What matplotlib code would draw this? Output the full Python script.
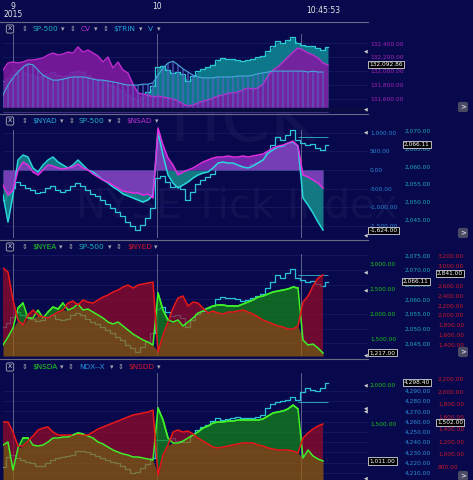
import numpy as np
import matplotlib.pyplot as plt
from matplotlib.lines import Line2D
from matplotlib.ticker import FuncFormatter

nan = np.nan

# bar index across the two sessions (one value per bar)
t = np.arange(66)
session_marks = [2, 30.8, 59.6]
last_bar = 64

sp500 = [2050.6, 2052.0, 2053.9, 2055.6, 2054.8, 2053.9, 2053.4, 2052.5, 2052.8, 2053.9,
         2054.5, 2053.4, 2052.8, 2053.4, 2054.5, 2055.3, 2054.5, 2053.4, 2052.2, 2051.7,
         2050.6, 2049.5, 2048.4, 2047.2, 2046.1, 2044.4, 2043.3, 2042.2, 2043.6, 2045.6,
         2048.4, 2056.7, 2057.3, 2055.6, 2054.2, 2054.5, 2053.7, 2050.6, 2052.8, 2055.0,
         2056.1, 2057.0, 2057.8, 2060.1, 2060.9, 2060.6, 2060.4, 2060.1, 2059.5, 2059.8,
         2060.6, 2061.2, 2061.8, 2064.0, 2066.0, 2068.2, 2067.4, 2068.8, 2070.2, 2067.4,
         2066.5, 2066.0, 2066.2, 2065.1, 2064.5, 2065.9]
cv = [132014, 132116, 132130, 132116, 132130, 132159, 132159, 132173, 132188, 132231,
      132260, 132231, 132245, 132274, 132260, 132347, 132274, 132303, 132260, 132217,
      132130, 132202, 132043, 132130, 132014, 131971, 131812, 131682, 131668, 131653,
      131625, 131639, 131625, 131610, 131596, 131567, 131524, 131495, 131509, 131538,
      131567, 131581, 131610, 131639, 131653, 131682, 131682, 131697, 131726, 131755,
      131740, 131755, 131812, 131928, 132014, 132058, 132130, 132202, 132274, 132332,
      132303, 132260, 132231, 132188, 132116, 132087]
trin_v = [0.29, 0.51, 0.67, 0.80, 0.91, 0.98, 0.96, 0.84, 0.73, 0.67,
          0.62, 0.62, 0.64, 0.67, 0.69, 0.69, 0.69, 0.67, 0.64, 0.62,
          0.62, 0.60, 0.58, 0.56, 0.53, 0.51, 0.51, 0.51, 0.53, 0.53,
          0.56, 0.73, 0.89, 1.00, 1.04, 0.96, 0.87, 0.80, 0.73, 0.69,
          0.67, 0.67, 0.67, 0.69, 0.69, 0.69, 0.69, 0.71, 0.71, 0.71,
          0.73, 0.76, 0.78, 0.80, 0.82, 0.82, 0.82, 0.82, 0.82, 0.82,
          0.82, 0.80, 0.82, 0.80, 0.80, nan]
nyad = [-672, -1399, -672, 269, 403, 350, 54, -54, 134, 269,
        350, 215, 134, 54, 134, 269, 134, 0, -54, -161,
        -269, -350, -457, -538, -646, -699, -753, -807, -861, -807,
        -672, 1022, 403, -134, -350, -484, -403, -323, -215, -134,
        -81, -54, 54, 188, 215, 188, 188, 134, 81, 54,
        108, 188, 269, 457, 538, 619, 646, 726, 753, 646,
        -753, -941, -1157, -1399, -1614, nan]
nsad = [-403, -672, -538, 0, 215, 134, -54, -134, 0, 134,
        108, 54, 27, 54, 81, 161, 54, 0, -108, -188,
        -269, -323, -403, -484, -565, -592, -619, -619, -672, -646,
        -753, 1130, 672, 323, 134, -134, -54, 0, 54, 134,
        215, 269, 323, 350, 350, 377, 350, 350, 377, 350,
        377, 403, 430, 511, 592, 646, 672, 726, 780, 646,
        -134, -188, -269, -350, -484, nan]
nyea = [1373, 1534, 1715, 2116, 2217, 1916, 1916, 2076, 1916, 2036,
        2137, 2096, 2217, 2076, 2116, 2197, 2076, 2096, 2036, 1976,
        1916, 1835, 1795, 1835, 1755, 1675, 1594, 1534, 1474, 1434,
        1373, 2418, 2076, 1876, 1835, 1876, 1755, 1835, 1916, 2016,
        2056, 2116, 2157, 2177, 2177, 2157, 2157, 2157, 2197, 2237,
        2277, 2337, 2357, 2398, 2438, 2458, 2478, 2498, 2538, 2518,
        1474, 1373, 1393, 1313, 1213, nan]
nyed = [2956, 2875, 2307, 1901, 1800, 2003, 2104, 2003, 1962, 1942,
        2003, 2063, 2104, 2246, 2287, 2205, 2307, 2266, 2246, 2307,
        2368, 2408, 2469, 2510, 2571, 2611, 2550, 2611, 2632, 2652,
        2672, 1252, 1597, 1861, 2145, 2348, 2388, 2185, 2266, 2246,
        2145, 2043, 2084, 2043, 2023, 2063, 2063, 2084, 2104, 2063,
        2023, 1962, 1901, 1861, 1820, 1780, 1760, 1719, 1719, 1780,
        2266, 2388, 2591, 2753, 2814, nan]
nsda = [1219, 1258, 895, 1180, 1310, 1310, 1219, 1206, 1219, 1258,
        1310, 1310, 1323, 1323, 1349, 1375, 1362, 1336, 1310, 1258,
        1232, 1193, 1154, 1128, 1103, 1090, 1064, 1064, 1051, 1038,
        1025, 1698, 1543, 1310, 1245, 1245, 1271, 1310, 1349, 1388,
        1439, 1465, 1504, 1517, 1517, 1530, 1530, 1543, 1543, 1543,
        1543, 1543, 1556, 1595, 1634, 1647, 1660, 1686, 1737, 1686,
        1051, 1154, 1077, 1038, 1012, nan]
nsdd = [1514, 1514, 1354, 1131, 1131, 1210, 1290, 1386, 1418, 1434,
        1354, 1306, 1306, 1306, 1306, 1322, 1306, 1306, 1354, 1402,
        1434, 1466, 1498, 1530, 1562, 1594, 1625, 1641, 1657, 1673,
        1705, 668, 987, 1147, 1354, 1386, 1354, 1370, 1322, 1258,
        1210, 1163, 1115, 1099, 1115, 1131, 1147, 1163, 1179, 1179,
        1179, 1147, 1131, 1099, 1083, 1067, 1067, 1067, 1051, 1019,
        1258, 1338, 1402, 1450, 1482, nan]
ndx = [4215.6, 4225.4, 4227.3, 4224.4, 4222.4, 4220.5, 4219.5, 4216.6, 4216.6, 4219.5,
       4222.4, 4224.4, 4225.4, 4226.4, 4227.3, 4231.3, 4231.3, 4230.3, 4228.3, 4226.4,
       4224.4, 4222.4, 4220.5, 4219.5, 4216.6, 4213.6, 4209.7, 4210.7, 4214.6, 4218.5,
       4224.4, 4242.0, 4242.0, 4242.0, 4244.0, 4241.0, 4240.1, 4240.1, 4246.9, 4251.8,
       4254.8, 4256.7, 4260.6, 4263.6, 4261.6, 4262.6, 4263.6, 4264.5, 4263.6, 4263.6,
       4263.6, 4264.5, 4266.5, 4273.4, 4277.3, 4279.2, 4280.2, 4281.2, 4284.1, 4281.2,
       4289.0, 4292.9, 4291.0, 4290.0, 4292.9, 4297.8]

sp_prev_close = 2068.2
ndx_prev_close = 4279.2

# last values shown in the boxes
cv_last, sp_last, nyad_last = 132092.86, 2066.11, -1624.00
nyea_last, nyed_last = 1217.00, 2841.00
nsda_last, nsdd_last, ndx_last = 1011.00, 1502.00, 4298.40

cv_ticks = [131600, 131800, 132000, 132200, 132400]
nyad_ticks = [-1500, -1000, -500, 0, 500, 1000]
sp_ticks2 = [2045, 2050, 2055, 2060, 2065, 2070]
sp_ticks3 = [2045, 2050, 2055, 2060, 2065, 2070, 2075]
nyea_ticks = [1500, 2000, 2500, 3000]
nyed_ticks = [1400, 1600, 1800, 2000, 2200, 2400, 2600, 2800, 3000, 3200]
nsda_ticks = [1500, 2000]
ndx_ticks = [4210, 4220, 4230, 4240, 4250, 4260, 4270, 4280, 4290]
nsdd_ticks = [800, 1000, 1200, 1400, 1600, 1800, 2000, 2200]

W, H = 473, 480
BG = '#08094c'
BROWN, GREEN, RED = '#965d07', '#128715', '#960a29'

fig = plt.figure(figsize=(W / 100, H / 100), dpi=100, facecolor=BG)
money = FuncFormatter(lambda v, p: f'{v:,.2f}')


def fx(x):
    return x / W


def fy(y):
    return 1 - y / H


def panel(top, bottom, ylim, grid_ticks):
    ax = fig.add_axes([fx(3), fy(bottom), fx(365), (bottom - top) / H])
    ax.set_facecolor('none')
    ax.set_xlim(0, 73)
    ax.set_ylim(*ylim)
    for s in ax.spines.values():
        s.set_visible(False)
    for v in grid_ticks:
        ax.axhline(v, color='#181c68', lw=0.5)
    for m in session_marks:
        ax.axvline(m, ymax=0.88, color='#8a8aa6', lw=0.6, alpha=0.8)
    ax.set_xticks([])
    ax.set_yticks([])
    return ax


def scale(host, ylim, z, ticks=None, pad=0, color='w'):
    ax = host.twinx()
    ax.set_zorder(z)
    ax.patch.set_visible(False)
    ax.set_ylim(*ylim)
    for s in ax.spines.values():
        s.set_visible(False)
    if ticks is None:
        ax.set_yticks([])
    else:
        ax.set_yticks(ticks)
        ax.yaxis.set_major_formatter(money)
        ax.tick_params(axis='y', length=0, pad=pad * 0.72, labelsize=4.2, labelcolor=color)
    return ax


def last_box(ax, value, pad):
    ax.annotate(f'{value:,.2f}', xy=(1, value), xycoords=ax.get_yaxis_transform(),
                xytext=(pad * 0.72, 0), textcoords='offset points', ha='left', va='center',
                fontsize=4.2, color='white', annotation_clip=False, zorder=10,
                bbox=dict(boxstyle='square,pad=0.2', fc='black', ec='white', lw=0.5))


def breadth(ax, up, down, up_lim):
    lo, hi = ax.get_ylim()
    up = lo + (np.asarray(up, float) - up_lim[0]) * (hi - lo) / (up_lim[1] - up_lim[0])
    down = np.asarray(down, float)
    ax.plot(t, up, color='#40f028', lw=1.1)
    ax.fill_between(t, lo, np.minimum(up, down), color=BROWN, alpha=0.72, lw=0)
    ax.fill_between(t, down, up, where=up >= down, interpolate=True, color=GREEN, alpha=0.72, lw=0)
    ax.fill_between(t, up, down, where=down > up, interpolate=True, color=RED, alpha=0.72, lw=0)
    ax.plot(t, down, color='#e81818', lw=1.1)
    ax.plot(t, np.where(up >= down, up, np.nan), color='#40f028', lw=1.1)


def header(y, items):
    fig.text(fx(10), fy(y), 'X', ha='center', va='center', fontsize=4.5, color='#e0e0e0',
             bbox=dict(boxstyle='round,pad=0.25', fc='none', ec='#b0b0b8', lw=0.6))
    for label, x, color in items:
        if label in ('⇕', '▾'):
            fig.text(fx(x), fy(y), label, ha='center', va='center', fontsize=5, color='#a8a8b4')
        else:
            fig.text(fx(x), fy(y), label, ha='left', va='center', fontsize=5.3, color=color)


# watermark
fig.text(fx(237), fy(122), 'TICK', fontsize=50, color='white', alpha=0.04,
         ha='center', va='center', zorder=-1)
fig.text(fx(237), fy(206), 'NYSE Tick Index', fontsize=29, color='white', alpha=0.04,
         ha='center', va='center', zorder=-1)

# panel 1: SP-500 / CV / TRIN
cv_lim, sp_lim1, v_lim = (131408, 132693), (2036.9, 2076.4), (-0.089, 1.889)
h1 = panel(23, 112, cv_lim, cv_ticks)
a_sp1 = scale(h1, sp_lim1, 1)
a_cv = scale(h1, cv_lim, 2, cv_ticks, 2, '#a524b4')
a_v = scale(h1, v_lim, 3)
a_sp1.fill_between(t, sp_lim1[0], sp500, color='#0f8592', alpha=0.9, lw=0)
a_sp1.plot(t, sp500, color='#2ccbd4', lw=0.9, drawstyle='steps-mid')
a_cv.fill_between(t, cv_lim[0], cv, color='#7e1aa0', alpha=0.9, lw=0)
a_cv.plot(t, cv, color='#c02cd0', lw=1.0)
a_v.bar(t, trin_v, width=0.55, color='#5660c8', alpha=0.6, lw=0)
a_v.plot(t, trin_v, color='#48a8dc', lw=0.8)
a_v.axhspan(v_lim[0], 0, color='#0b0d42', zorder=5)
last_box(a_cv, cv_last, 1.5)

for m, lab, yy in [(session_marks[0], '9', 1.19), (session_marks[0], '2015', 1.09),
                   (session_marks[1], '10', 1.19), (last_bar, '10:45:53', 1.146)]:
    h1.text(m, yy, lab, transform=h1.get_xaxis_transform(), ha='center', va='center',
            fontsize=5.5, color='#e6e6e6', clip_on=False)

# panel 2: NYAD / SP-500 / NSAD
nyad_lim, sp_lim2 = (-1829, 1480), (2040.0, 2074.3)
h2 = panel(115, 238, nyad_lim, nyad_ticks)
a_sp2 = scale(h2, sp_lim2, 1, sp_ticks2, 36.5, '#1fa8b8')
a_ad = scale(h2, nyad_lim, 2, nyad_ticks, 2, '#2a86d6')
a_sp2.plot(t, sp500, color='#2cc6d8', lw=0.9, drawstyle='steps-mid')
a_sp2.hlines(sp_prev_close, 59, 65, color='#2cb8c8', lw=0.6)
a_ad.fill_between(t, 0, nyad, color='#168c8c', alpha=0.85, lw=0)
a_ad.plot(t, nyad, color='#2ad6dc', lw=1.1)
a_ad.fill_between(t, 0, nsad, color='#8e30c2', alpha=0.8, lw=0)
a_ad.plot(t, nsad, color='#e02ee0', lw=1.1)
last_box(a_sp2, sp_last, 36)
last_box(a_ad, nyad_last, 1.5)

# panel 3: NYEA / SP-500 / NYED
nyea_lim, sp_lim3, nyed_lim = (1153, 3482), (2040.7, 2080.2), (1171, 3525)
h3 = panel(240, 356, sp_lim3, sp_ticks3)
a_sp3 = scale(h3, sp_lim3, 1, sp_ticks3, 36.5, '#1fa8b8')
a_r3 = scale(h3, nyed_lim, 2, nyed_ticks, 70, '#c81828')
a_g3 = scale(h3, nyea_lim, 3, nyea_ticks, 2, '#18c018')
a_sp3.plot(t, sp500, color='#2cc0d8', lw=0.9, drawstyle='steps-mid')
a_sp3.hlines(sp_prev_close, 59, 65, color='#2cb8c8', lw=0.6)
breadth(a_r3, nyea, nyed, nyea_lim)
last_box(a_sp3, sp_last, 35)
last_box(a_r3, nyed_last, 69)
last_box(a_g3, nyea_last, 1.5)

# panel 4: NSDA / NDX / NSDD
nsda_lim, ndx_lim, nsdd_lim = (766, 2346), (4202.9, 4322.3), (588, 2535)
h4 = panel(358, 480, ndx_lim, ndx_ticks)
a_ndx = scale(h4, ndx_lim, 1, ndx_ticks, 36.5, '#2a8ed6')
a_r4 = scale(h4, nsdd_lim, 2, nsdd_ticks, 70, '#c81828')
a_g4 = scale(h4, nsda_lim, 3, nsda_ticks, 2, '#18c018')
a_ndx.plot(t, ndx, color='#2cc0d8', lw=0.9, drawstyle='steps-mid')
a_ndx.hlines(ndx_prev_close, 59, 65, color='#2cb8c8', lw=0.6)
breadth(a_r4, nsda, nsdd, nsda_lim)
last_box(a_ndx, ndx_last, 36)
last_box(a_r4, nsdd_last, 69)
last_box(a_g4, nsda_last, 1.5)

# headers
teal, cyan, mag = '#1fb0c0', '#22a8dc', '#c030d0'
green, red, blue = '#22d022', '#d81828', '#2290e0'
header(29, [('⇕', 25, ''), ('SP-500', 32, teal), ('▾', 63, ''), ('⇕', 73, ''),
            ('CV', 81, mag), ('▾', 96, ''), ('⇕', 106, ''), ('$TRIN', 113, cyan),
            ('▾', 141, ''), ('V', 148, cyan), ('▾', 159, '')])
header(121, [('⇕', 25, ''), ('$NYAD', 32, cyan), ('▾', 62, ''), ('⇕', 72, ''),
             ('SP-500', 78, teal), ('▾', 110, ''), ('⇕', 119, ''), ('$NSAD', 126, mag),
             ('▾', 157, '')])
header(247, [('⇕', 25, ''), ('$NYEA', 32, green), ('▾', 61, ''), ('⇕', 71, ''),
             ('SP-500', 78, teal), ('▾', 110, ''), ('⇕', 119, ''), ('$NYED', 127, red),
             ('▾', 156, '')])
header(367, [('⇕', 25, ''), ('$NSDA', 32, green), ('▾', 62, ''), ('⇕', 71, ''),
             ('NDX--X', 79, blue), ('▾', 112, ''), ('⇕', 121, ''), ('$NSDD', 128, red),
             ('▾', 159, '')])

# separators, scale arrows and scroll buttons
for y in (22, 113.5, 239.5, 358.5):
    fig.add_artist(Line2D([0, fx(368)], [fy(y), fy(y)], color='#6a6a84', lw=0.8))
for y in (50.7, 109, 131.7, 235, 271.7, 290, 355, 385, 408, 411, 478):
    fig.text(fx(366), fy(y), '◀', fontsize=3.5, color='#d0d0d0', ha='center', va='center')
for y in (107, 233, 352, 476):
    fig.text(fx(463), fy(y), '>', fontsize=5, color='#d8d8e0', ha='center', va='center',
             fontweight='bold', bbox=dict(boxstyle='round,pad=0.3', fc='#4a4a64', ec='none'))

fig.savefig('out.png', dpi=100, facecolor=BG)
